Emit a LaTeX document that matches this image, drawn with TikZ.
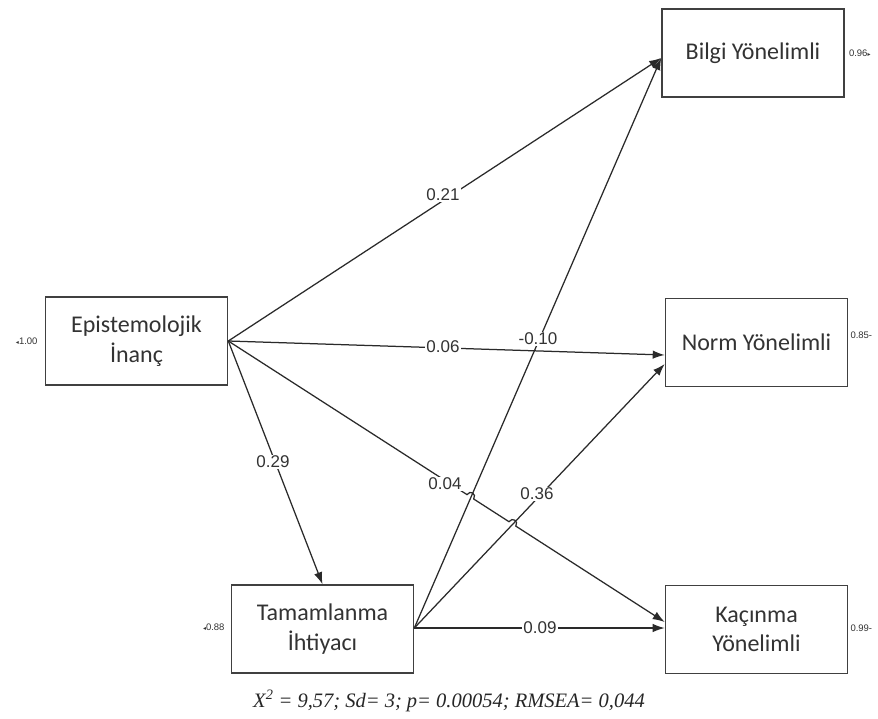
\documentclass[tikz,border=0pt]{standalone}
\usepackage{fontspec}
\setmainfont{Liberation Serif}
\newfontfamily\boxfont{Carlito}
\newfontfamily\labfont{Liberation Sans}
\newfontfamily\symfont{DejaVu Sans}
\usetikzlibrary{arrows.meta,calc}
\definecolor{linec}{HTML}{2A2A2A}
\definecolor{boxc}{HTML}{404040}
\tikzset{
  varbox/.style={draw=boxc,line width=1.6pt,minimum width=182pt,minimum height=88pt,
    align=center,inner sep=0pt,font=\boxfont\fontsize{24}{29.5}\selectfont,text=black!80},
  path/.style={draw=linec,line width=1.25pt,-{Latex[length=12pt,width=8.5pt]}},
  coef/.style={fill=white,inner sep=1pt,font=\labfont\fontsize{17}{18}\selectfont,text=black!80},
  resid/.style={inner sep=0pt,font=\labfont\fontsize{9.5}{11}\selectfont,text=black!80}
}
\begin{document}
\begin{tikzpicture}[x=1pt,y=-1pt]
\useasboundingbox[fill=white] (0,0) rectangle (878,718);
% boxes
\node[varbox] (E) at (136.5,341) {Epistemolojik\\İnanç};
\node[varbox] (T) at (322.5,629) {Tamamlanma\\İhtiyacı};
\node[varbox] (B) at (753,53) {Bilgi Yönelimli};
\node[varbox] (N) at (756.5,342.5) {Norm Yönelimli};
\node[varbox] (K) at (756.5,629.5) {Kaçınma\\Yönelimli};
% residual labels
\node[resid,anchor=east] (rE) at ([xshift=-7pt]E.west) {{\symfont\fontsize{6}{6}\selectfont ◂}1.00};
\node[resid,anchor=east] (rT) at ([xshift=-6pt,yshift=2pt]T.west) {{\symfont\fontsize{6}{6}\selectfont ◂}0.88};
\node[resid,anchor=west] (rB) at ([xshift=4pt]B.east) {0.96{\symfont\fontsize{6}{6}\selectfont ▸}};
\node[resid,anchor=west] (rN) at ([xshift=2pt,yshift=7pt]N.east) {0.85-};
\node[resid,anchor=west] (rK) at ([xshift=2pt,yshift=1pt]K.east) {0.99-};
% anchor points
\coordinate (eOut) at (E.east);
\coordinate (tOut) at ([yshift=1pt]T.east);
\coordinate (bIn) at ([yshift=-5pt]B.west);
\coordinate (nIn1) at ([yshift=-12.5pt]N.west);
\coordinate (nIn2) at ([yshift=-21.5pt]N.west);
\coordinate (kIn1) at ([yshift=7.5pt]K.west);
\coordinate (kIn2) at ([yshift=1.5pt]K.west);
% hop points on E->K
\coordinate (h1a) at (467.0,494.6);
\coordinate (h1b) at (473.7,499.0);
\coordinate (h1c) at (470.2,489.6);
\coordinate (h1d) at (476.9,494.0);
\coordinate (h2a) at (509.0,521.7);
\coordinate (h2b) at (515.8,526.1);
\coordinate (h2c) at (512.2,516.7);
\coordinate (h2d) at (519.0,521.1);
% paths
\draw[path] (tOut) -- (bIn);
\draw[path] (tOut) -- (nIn2);
\draw[path] (eOut) -- (h1a) .. controls (h1c) and (h1d) .. (h1b) -- (h2a) .. controls (h2c) and (h2d) .. (h2b) -- (kIn1);
\draw[path] (eOut) -- (bIn);
\draw[path] (eOut) -- (nIn1);
\draw[path] (eOut) -- (T.north);
\draw[path] (tOut) -- (kIn2);
% coefficient labels
\node[coef] (c1) at (443,195) {0.21};
\node[coef] (c2) at (443,347) {0.06};
\node[coef] (c3) at (538,339) {-0.10};
\node[coef] (c4) at (273,462) {0.29};
\node[coef] (c5) at (445,484) {0.04};
\node[coef] (c6) at (537,494) {0.36};
\node[coef] (c7) at (540,628) {0.09};
% caption
\node[font=\itshape\fontsize{20.5}{24}\selectfont,text=black!85] (cap) at (449,701) {X\textsuperscript{2} = 9,57; Sd= 3; p= 0.00054; RMSEA= 0,044};
\end{tikzpicture}
\end{document}
